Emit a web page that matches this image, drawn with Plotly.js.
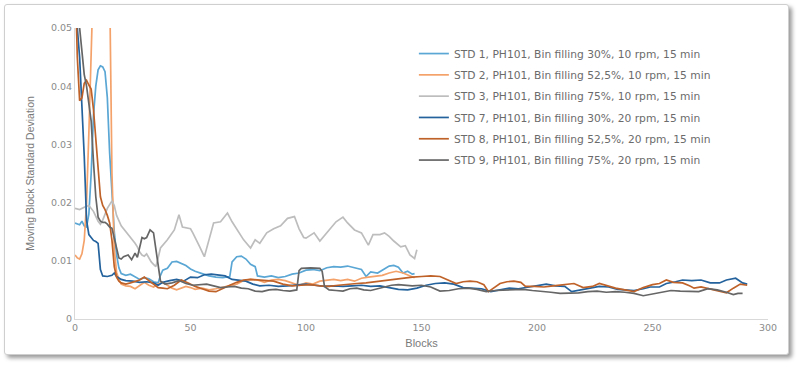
<!DOCTYPE html>
<html>
<head>
<meta charset="utf-8">
<script src="https://cdn.plot.ly/plotly-3.0.1.min.js"></script>
<style>
html,body{margin:0;padding:0;background:#fff;}
#frame{position:absolute;left:4px;top:4px;width:783px;height:349px;border:1px solid #cfcfcf;border-radius:3px;background:#fff;box-shadow:3px 3px 4px rgba(0,0,0,0.4);}
#chart{position:absolute;left:0;top:0;width:800px;height:367px;}
</style>
</head>
<body>
<div id="frame"></div>
<div id="chart"></div>
<script>
// ---- data ----
const seriesNames = [
  "STD 1, PH101, Bin filling 30%, 10 rpm, 15 min",
  "STD 2, PH101, Bin filling 52,5%, 10 rpm, 15 min",
  "STD 3, PH101, Bin filling 75%, 10 rpm, 15 min",
  "STD 7, PH101, Bin filling 30%, 20 rpm, 15 min",
  "STD 8, PH101, Bin filling 52,5%, 20 rpm, 15 min",
  "STD 9, PH101, Bin filling 75%, 20 rpm, 15 min"
];

const std1Blocks = [0,2,3,4,5,6,7,8,9,10,11,12,13,14,15,16,17,18,19,20,22,24,26,28,30,32,34,36,37,38,40,42,44,46,48,50,52,55,58,61,64,67,68,70,72,74,76,78,79,82,85,88,91,94,97,100,103,106,109,112,115,118,121,124,126,128,131,134,136,138,140,142,144,146,147];
const std1Values = [0.0165,0.0162,0.0168,0.016,0.0158,0.018,0.025,0.035,0.040,0.0428,0.0435,0.0433,0.0425,0.038,0.0285,0.021,0.015,0.011,0.0088,0.0078,0.0075,0.0077,0.0073,0.0068,0.0071,0.0069,0.0064,0.0062,0.0075,0.0084,0.0087,0.0098,0.0099,0.0095,0.0092,0.0086,0.0082,0.0078,0.0074,0.0072,0.0071,0.0073,0.0098,0.0107,0.0108,0.0103,0.0094,0.009,0.0074,0.0072,0.0074,0.0071,0.0073,0.0077,0.0079,0.0084,0.0085,0.0083,0.0088,0.009,0.0089,0.0091,0.0088,0.0085,0.0073,0.0081,0.0079,0.0087,0.0091,0.0092,0.0089,0.0079,0.0082,0.0077,0.0078];

const std2Blocks = [0,1,2,3,4,5,6,7,8,9,10,11,12,13,14,15,16,17,18,19,20,22,24,26,28,30,32,34,36,38,40,42,44,46,48,50,52,55,58,61,64,67,70,73,76,79,82,85,88,91,94,97,100,103,106,109,112,115,118,121,124,127,130,133,136,139,142,145,147];
const std2Values = [0.011,0.0105,0.0103,0.0112,0.0135,0.02,0.032,0.045,0.1,0.1,0.1,0.1,0.1,0.1,0.09,0.055,0.025,0.012,0.008,0.0068,0.006,0.0057,0.0056,0.0052,0.0058,0.0063,0.0058,0.0055,0.006,0.0063,0.0058,0.0053,0.005,0.0053,0.0056,0.0054,0.0051,0.0053,0.005,0.0052,0.0055,0.0058,0.006,0.0066,0.0068,0.0067,0.0063,0.0067,0.0068,0.0066,0.0062,0.0058,0.0062,0.006,0.0065,0.0067,0.0068,0.0066,0.0068,0.0065,0.007,0.0072,0.0073,0.0075,0.0079,0.0082,0.0079,0.0074,0.0071];

const std3Blocks = [0,2,4,6,8,10,11,12,14,16,17,18,20,22,24,26,27,28,29,30,31,32,33,34,35,36,37,40,43,45,46.5,50,51,54,56,58,60,63,66,68,71,73,76,78,80,83,86,89,92,95,97,99,100,103.5,106,110,113,116,118,121,124,127,129,132,134,136,138,141,143,145,147,148];
const std3Values = [0.019,0.0188,0.0192,0.0195,0.0185,0.0168,0.0163,0.017,0.019,0.0203,0.0195,0.0178,0.016,0.015,0.0142,0.013,0.0124,0.0115,0.011,0.0108,0.0112,0.0105,0.0098,0.0094,0.009,0.0105,0.0122,0.0136,0.0153,0.0179,0.0158,0.0155,0.0148,0.0124,0.0107,0.0136,0.0165,0.0167,0.0182,0.0167,0.0148,0.0136,0.0122,0.0136,0.013,0.0148,0.0155,0.016,0.0173,0.0176,0.0155,0.014,0.0139,0.0148,0.0134,0.0153,0.0167,0.0175,0.0165,0.0153,0.0148,0.0127,0.0145,0.0145,0.0148,0.0142,0.0134,0.0124,0.0126,0.011,0.0104,0.0119];

const std7Blocks = [0,1,2,3,4,5,6,7,8,9,10,11,12,14,16,17,18,20,22,25,28,31,34,36,38,41,44,47,50,53,56,59,62,65,68,71,74,77,80,84,88,92,96,100,104,108,112,116,120,124,128,132,136,140,144,148,152,156,160,164,168,172,176,180,184,188,192,196,200,204,208,212,215,219,223,227,231,235,238,242,246,249,253,256,260,263,267,271,275,279,282,286,289,291];
const std7Values = [0.06,0.05,0.045,0.037,0.028,0.017,0.0145,0.014,0.0135,0.0133,0.013,0.0085,0.0074,0.0073,0.0075,0.0079,0.0073,0.0068,0.0066,0.0065,0.0063,0.0064,0.0062,0.0058,0.0063,0.0066,0.0068,0.0065,0.0072,0.0071,0.0076,0.0077,0.0076,0.0074,0.0068,0.0066,0.0065,0.006,0.0057,0.0058,0.0056,0.0057,0.0058,0.006,0.0058,0.0056,0.0057,0.0056,0.0057,0.0058,0.0056,0.0057,0.0054,0.0051,0.005,0.0053,0.0058,0.0061,0.0062,0.006,0.0054,0.0053,0.0052,0.0047,0.005,0.0053,0.0052,0.0055,0.0058,0.006,0.0057,0.0056,0.0047,0.005,0.0053,0.0056,0.0055,0.0051,0.005,0.0049,0.0052,0.0055,0.0055,0.0061,0.0064,0.0067,0.0066,0.0067,0.0062,0.0062,0.0067,0.007,0.0062,0.006];

const std8Blocks = [0,1,2,3,4,5,6,7,8,9,10,11,12,13,14,15,16,17,18,19,20,22,24,26,28,30,32,34,36,38,40,43,46,49,52,55,58,61,64,67,70,73,76,79,82,86,90,94,98,102,106,110,114,118,122,126,130,134,138,142,146,150,154,158,161,165,168,171,174,177,179,182,184,187,190,193,195,199,203,207,211,216,220,224,227,231,234,238,242,246,250,253,256,259,263,266,268,271,275,279,282,285,288,291];
const std8Values = [0.06,0.045,0.0375,0.038,0.0405,0.041,0.0402,0.0395,0.036,0.031,0.027,0.021,0.0195,0.0188,0.0178,0.0165,0.0135,0.009,0.0072,0.0065,0.0062,0.006,0.0062,0.0064,0.0067,0.0072,0.0066,0.006,0.0054,0.0053,0.0052,0.0058,0.0067,0.0062,0.0056,0.0052,0.0048,0.0047,0.0053,0.0058,0.0063,0.0067,0.0068,0.0067,0.0066,0.0065,0.006,0.0057,0.0058,0.0059,0.0057,0.0056,0.0058,0.006,0.0061,0.0062,0.0064,0.0067,0.0069,0.007,0.0072,0.0073,0.0074,0.0073,0.0068,0.0061,0.0064,0.0065,0.0064,0.0059,0.0047,0.0055,0.0061,0.0064,0.0065,0.0063,0.0056,0.0056,0.0055,0.0057,0.0059,0.0061,0.0054,0.0056,0.0061,0.0056,0.0053,0.005,0.0047,0.0054,0.0059,0.0061,0.0067,0.0063,0.0062,0.0057,0.0053,0.0055,0.0051,0.0047,0.0045,0.0053,0.006,0.0058];

const std9Blocks = [0,1,2,3,4,5,6,7,8,9,10,11,12,13,14,15,16,17,18,19,20,21,23,24.5,26,27,29,30,31,32.5,34,35,36,37,39,42,45,48,51,54,57,60,63,66,69,72,75,78,81,84,87,90,93,96,97,98,102,106,107,108,110,113,116,119,122,125,128,131,134,137,140,143,146,150,154,158,162,166,170,174,178,182,186,190,194,198,202,206,210,214,218,222,226,230,234,238,242,246,250,254,258,262,266,270,274,278,282,285,287,289];
const std9Values = [0.06,0.052,0.05,0.046,0.042,0.04,0.037,0.034,0.027,0.021,0.0175,0.0168,0.0166,0.0166,0.0163,0.0158,0.0156,0.014,0.0125,0.0105,0.0103,0.0107,0.011,0.0102,0.0113,0.0106,0.014,0.0138,0.014,0.0153,0.0148,0.012,0.0085,0.0065,0.006,0.0062,0.0066,0.0061,0.0058,0.0059,0.006,0.0057,0.0054,0.0055,0.0056,0.0053,0.0052,0.0048,0.0047,0.005,0.0051,0.0049,0.0048,0.005,0.0083,0.0087,0.0088,0.0087,0.0082,0.0056,0.005,0.0049,0.0048,0.0052,0.0053,0.005,0.0049,0.0052,0.0055,0.0058,0.0059,0.0058,0.0057,0.0058,0.0055,0.0048,0.0049,0.0052,0.0053,0.0051,0.0047,0.0049,0.005,0.005,0.0051,0.0049,0.0048,0.0046,0.0044,0.0044,0.0045,0.0047,0.0048,0.0046,0.0047,0.0046,0.0044,0.004,0.0043,0.0047,0.0049,0.0048,0.0047,0.0047,0.0052,0.005,0.0046,0.0042,0.0044,0.0044];

const xTickValues = [0,50,100,150,200,250,300];
const yTickValues = [0,0.01,0.02,0.03,0.04,0.05];
const yTickLabels = ["0","0.01","0.02","0.03","0.04","0.05"];

const seriesBlocks = [std1Blocks,std2Blocks,std3Blocks,std7Blocks,std8Blocks,std9Blocks];
const seriesValues = [std1Values,std2Values,std3Values,std7Values,std8Values,std9Values];
const seriesColors = ["#5aa6d4","#f4a26a","#bdbdbd","#23629c","#bf6229","#666666"];

const traces = seriesNames.map((n,i)=>({
  type:"scatter", mode:"lines", name:n,
  x:seriesBlocks[i], y:seriesValues[i],
  legendgroup:"g"+i,
  line:{color:seriesColors[i], width:1.7, shape:"linear"},
  hoverinfo:"skip"
}));

const layout = {
  width:800, height:367,
  margin:{l:75, r:32, t:28, b:48},
  paper_bgcolor:"rgba(0,0,0,0)",
  plot_bgcolor:"rgba(0,0,0,0)",
  showlegend:true,
  legend:{x:0.489, y:0.962, xanchor:"left", yanchor:"top",
    font:{family:"DejaVu Sans", size:10.7, color:"#6b6b6b"},
    bgcolor:"rgba(0,0,0,0)", tracegroupgap:2.3, itemwidth:30},
  xaxis:{range:[0,300], tickvals:xTickValues, showgrid:false, zeroline:false,
    showline:true, linecolor:"#d9d9d9", linewidth:1, ticks:"",
    tickfont:{family:"DejaVu Sans", size:9.5, color:"#8a8a8a"},
    title:{text:"Blocks", font:{family:"Liberation Sans", size:11, color:"#7a7a7a"}, standoff:6}},
  yaxis:{range:[0,0.05], tickvals:yTickValues, ticktext:yTickLabels, showgrid:false, zeroline:false,
    showline:true, linecolor:"#d9d9d9", linewidth:1, ticks:"",
    tickfont:{family:"DejaVu Sans", size:9.5, color:"#8a8a8a"},
    title:{text:"Moving Block Standard Deviation", font:{family:"Liberation Sans", size:10.5, color:"#7a7a7a"}, standoff:14}}
};

Plotly.newPlot("chart", traces, layout, {displayModeBar:false, staticPlot:true});
</script>
</body>
</html>
